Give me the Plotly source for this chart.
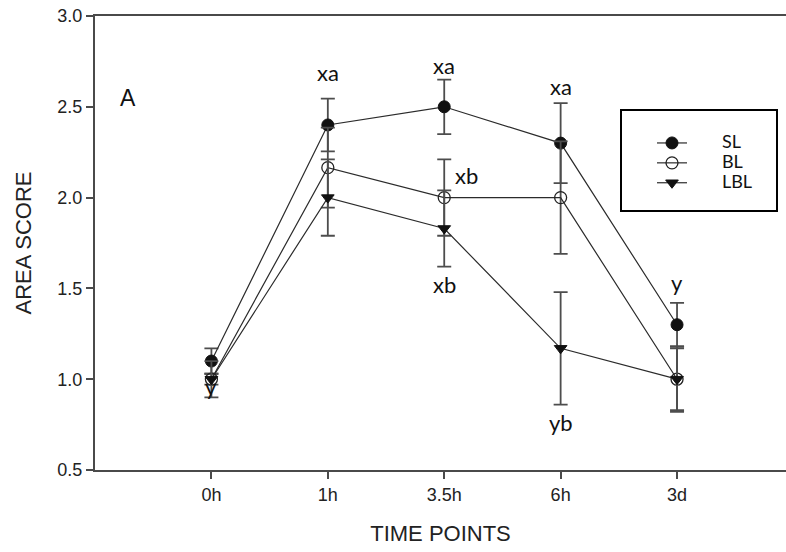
import plotly.graph_objects as go

# Sampling time points and mean area scores (± SE) for each group
time_points = ["0h", "1h", "3.5h", "6h", "3d"]

sl_mean = [1.10, 2.40, 2.50, 2.30, 1.30]
sl_err = [0.07, 0.145, 0.15, 0.22, 0.12]

bl_mean = [1.00, 2.165, 2.00, 2.00, 1.00]
bl_err = [0.03, 0.22, 0.21, 0.31, 0.18]

lbl_mean = [1.00, 2.00, 1.83, 1.17, 1.00]
lbl_err = [0.10, 0.21, 0.21, 0.31, 0.17]

# Significance letters: (time point, y position, text, x shift in category units)
sig_labels = [
    ("1h", 2.69, "xa", 0.0),
    ("3.5h", 2.73, "xa", 0.0),
    ("6h", 2.61, "xa", 0.0),
    ("3.5h", 2.12, "xb", 0.19),
    ("3.5h", 1.52, "xb", 0.0),
    ("6h", 0.76, "yb", 0.0),
    ("3d", 1.53, "y", 0.0),
    ("0h", 0.96, "y", 0.0),
]

x_idx = list(range(len(time_points)))
line_col = "#2b2b2b"
err_col = "#4d4d4d"
axis_col = "#4a4a4a"
nbsp = "\u00a0"

fig = go.Figure()

series = [
    ("SL", sl_mean, sl_err, dict(symbol="circle", size=12, color="#111111",
                                 line=dict(color="#111111", width=1))),
    ("BL", bl_mean, bl_err, dict(symbol="circle-open", size=12, color="#222222",
                                 line=dict(color="#222222", width=1.3))),
    ("LBL", lbl_mean, lbl_err, dict(symbol="triangle-down", size=11, color="#111111",
                                    line=dict(color="#111111", width=1))),
]

for name, mean, err, marker in series:
    # small legend font keeps the rows tight; the span enlarges the visible label
    label = nbsp * 9 + '<span style="font-size:18px">' + name + "</span>"
    fig.add_trace(go.Scatter(
        x=x_idx, y=mean, name=label,
        mode="lines+markers",
        line=dict(color=line_col, width=1.2),
        marker=marker,
        error_y=dict(type="data", array=err, visible=True,
                     color=err_col, thickness=1.8, width=7),
    ))

for tp, yv, txt, dx in sig_labels:
    fig.add_annotation(
        x=time_points.index(tp) + dx, y=yv, text=txt, showarrow=False,
        font=dict(family="Lato, Noto Sans, sans-serif", size=22, color="#111111"),
        xanchor="center", yanchor="middle",
    )

# Panel letter
fig.add_annotation(
    x=-0.72, y=2.55, text="A", showarrow=False,
    font=dict(family="Liberation Sans, Arial, sans-serif", size=23, color="#111111"),
    xanchor="center", yanchor="middle",
)

# Legend frame
fig.add_shape(
    type="rect", xref="paper", yref="paper",
    x0=(621 - 95) / (786 - 95), x1=(777 - 95) / (786 - 95),
    y0=(470 - 211) / 454, y1=(470 - 110) / 454,
    line=dict(color="#000000", width=2), fillcolor="rgba(0,0,0,0)",
)

fig.update_layout(
    width=786, height=552,
    margin=dict(l=95, r=0, t=16, b=82),
    paper_bgcolor="white", plot_bgcolor="white",
    showlegend=True,
    legend=dict(
        x=(652 - 95) / (786 - 95), y=(470 - 128) / 454,
        xanchor="left", yanchor="top",
        bgcolor="rgba(0,0,0,0)", borderwidth=0,
        font=dict(family="Lato, Noto Sans, sans-serif", size=13, color="#111111"),
        tracegroupgap=0,
    ),
    font=dict(family="Liberation Sans, Arial, sans-serif", color="#222222"),
)

fig.update_xaxes(
    range=[-1, 4.936],
    tickmode="array", tickvals=x_idx, ticktext=time_points,
    ticks="outside", ticklen=7, tickwidth=1.5, tickcolor=axis_col,
    showline=True, linecolor=axis_col, linewidth=2, mirror=True,
    showgrid=False, zeroline=False,
    tickfont=dict(size=18, color="#222222"),
    title=dict(text="TIME POINTS", font=dict(size=22, color="#222222"), standoff=22),
)

fig.update_yaxes(
    range=[0.5, 3.0],
    tickmode="array", tickvals=[0.5, 1.0, 1.5, 2.0, 2.5, 3.0],
    ticktext=["0.5", "1.0", "1.5", "2.0", "2.5", "3.0"],
    ticks="outside", ticklen=7, tickwidth=1.5, tickcolor=axis_col,
    showline=True, linecolor=axis_col, linewidth=2, mirror=False,
    showgrid=False, zeroline=False,
    tickfont=dict(size=18, color="#222222"),
    title=dict(text="AREA SCORE", font=dict(size=22, color="#222222"), standoff=20),
)

fig.write_html("out.html")
